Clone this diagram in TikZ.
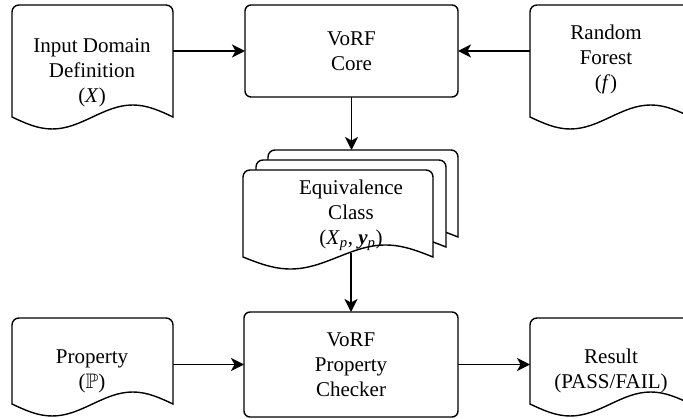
\documentclass[tikz,border=0pt]{standalone}
\usepackage{amssymb}
\usepackage{fontspec}
\setmainfont{Liberation Serif}
\usepackage{tikz}
\usetikzlibrary{arrows.meta, calc}

% outline of a draw.io style document shape around an (empty) frame node
\newcommand\docframe[1]{%
  \draw[docline] let \p1=(#1.south west), \p2=(#1.north east) in
    (\x1,{\y1+13pt}) [rounded corners=7pt] -- (\x1,\y2) -- (\x2,\y2) [sharp corners]
    -- (\x2,{\y1+13pt})
    sin ({\x2-(\x2-\x1)/4},{\y1+25pt}) cos ({(\x1+\x2)/2},{\y1+13pt})
    sin ({\x1+(\x2-\x1)/4},{\y1+1pt}) cos (\x1,{\y1+13pt}) -- cycle;}

\tikzset{
  frame/.style={inner sep=0pt, outer sep=0pt, minimum width=161pt},
  docline/.style={draw=black, line width=1.4pt, fill=white},
  txt/.style={align=center, inner sep=0pt, font=\fontsize{21}{25}\selectfont},
  procbox/.style={draw=black, line width=1.4pt, rounded corners=6pt, fill=white,
    align=center, inner sep=0pt, outer sep=0pt, font=\fontsize{21}{25}\selectfont},
  arr/.style={->, line width=1.4pt}
}

\begin{document}
\begin{tikzpicture}[x=1pt, y=-1pt, >={Stealth[length=13pt, width=13pt, inset=3.5pt]}]

    % canvas (same size as the reference)
    \useasboundingbox (0,0) rectangle (683,419);

    % 1. top row
    \node[frame, minimum height=125pt] (indoc) at (92.5,67.5) {};
    \docframe{indoc}
    \node[txt] (intext) at (92,73) {Input Domain\\Definition\\(\textit{X})};

    \node[procbox, minimum width=213pt, minimum height=92pt] (core) at (351.5,51) {VoRF\\Core};

    \node[frame, minimum height=125pt] (rfdoc) at (610.5,67.5) {};
    \docframe{rfdoc}
    \node[txt] (rftext) at (606,59) {Random\\Forest\\(\textit{f})};

    % 2. stacked equivalence classes
    \node[frame, minimum width=190pt, minimum height=100pt] (eqc) at (363,200) {};
    \node[frame, minimum width=190pt, minimum height=100pt] (eqb) at (351,210) {};
    \node[frame, minimum width=190pt, minimum height=100pt] (eqa) at (338,220) {};
    \docframe{eqc}
    \docframe{eqb}
    \docframe{eqa}
    \node[txt] (eqtext) at (351,215)
        {Equivalence\\Class\\(\textit{X}\textsubscript{\textit{p}}, \textbf{\textit{y}}\textsubscript{\textit{p}})};

    % 3. bottom row
    \node[frame, minimum height=99pt] (propdoc) at (92.5,367.5) {};
    \docframe{propdoc}
    \node[txt] (proptext) at (92,371) {Property\\($\mathbb{P}$)};

    \node[procbox, minimum width=214pt, minimum height=105pt] (check) at (351,364.5)
        {VoRF\\Property\\Checker};

    \node[frame, minimum height=99pt] (resdoc) at (610.5,367.5) {};
    \docframe{resdoc}
    \node[txt] (restext) at (611,371) {Result\\(PASS/FAIL)};

    % 4. connectors
    \coordinate (eqout) at ($(eqa.south -| check.north)+(0,-17)$);
    \draw[arr] (indoc.east |- core.west) -- (core.west);
    \draw[arr] (rfdoc.west |- core.east) -- (core.east);
    \draw[arr] (core.south) -- (core.south |- eqc.north);
    \draw[arr] (eqout) -- (check.north);
    \draw[arr] (propdoc.east |- check.west) -- (check.west);
    \draw[arr] (check.east) -- (resdoc.west |- check.east);

\end{tikzpicture}
\end{document}
